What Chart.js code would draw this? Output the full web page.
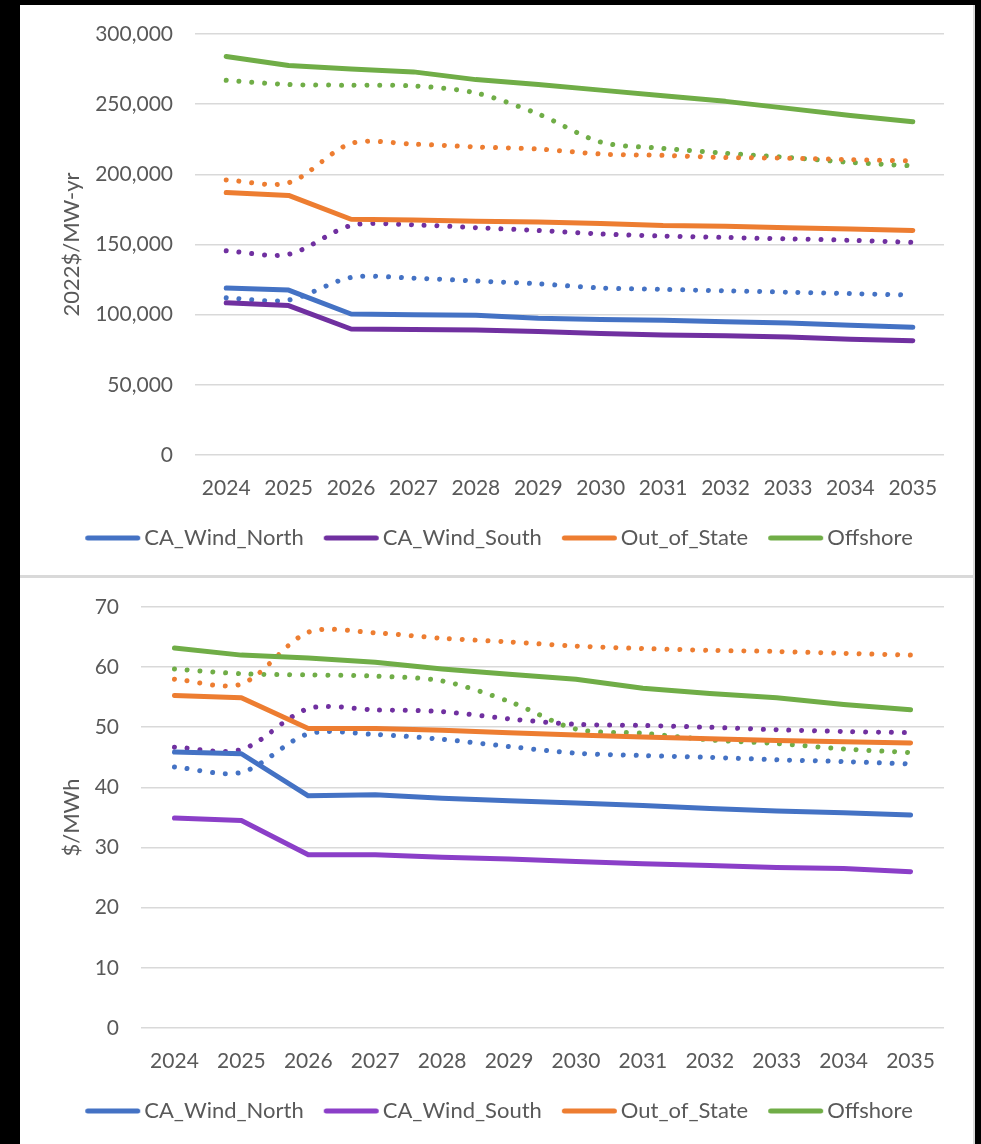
<!DOCTYPE html>
<html>
<head>
<meta charset="utf-8">
<script src="https://cdn.jsdelivr.net/npm/chart.js@4"></script>
<style>
  html, body { margin: 0; padding: 0; background: #000; }
  body { width: 981px; height: 1144px; position: relative; overflow: hidden; }
  .panel { position: absolute; left: 20px; width: 953px; background: #fff; border-right: 2px solid #d9d9d9; }
  #p1 { top: 5px; height: 570px; }
  #sep { position: absolute; left: 20px; top: 575px; width: 955px; height: 3px; background: #d9d9d9; }
  #p2 { top: 578px; height: 566px; }
  canvas { display: block; }
</style>
</head>
<body>
<div class="panel" id="p1"><canvas id="capChart" width="953" height="570"></canvas></div>
<div id="sep"></div>
<div class="panel" id="p2"><canvas id="lcoeChart" width="953" height="566"></canvas></div>
<script>
const years = ['2024','2025','2026','2027','2028','2029','2030','2031','2032','2033','2034','2035'];
const names = ['CA_Wind_North', 'CA_Wind_South', 'Out_of_State', 'Offshore'];

// top chart, 2022$/MW-yr
const capNorth = [119000,117500,100500,100000,99500,97500,96500,96000,95000,94000,92500,91000];
const capSouth = [108500,106500,89800,89500,89000,88000,86500,85500,85000,84000,82500,81500];
const capOOS = [187000,185000,168000,167500,166500,166000,165000,163500,163000,162000,161000,160000];
const capOff = [284000,277500,275000,273000,267500,264000,260000,256000,252000,247000,242000,237500];
const capNorthDot = [112000,110500,126500,126000,124000,122000,119000,118000,117000,116000,115000,114000];
const capSouthDot = [145500,143000,163500,164000,162000,160000,157500,156000,155000,154000,153000,151500];
const capOOSDot = [196000,194000,222000,221500,219500,218000,214500,213500,212000,211500,210500,209500];
const capOffDot = [267000,264000,263500,263000,258000,243000,223000,218500,215000,212000,208500,206000];

// bottom chart, $/MWh
const lcoeNorth = [45.9,45.6,38.6,38.8,38.2,37.8,37.4,37.0,36.5,36.1,35.8,35.4];
const lcoeSouth = [34.9,34.5,28.8,28.8,28.4,28.1,27.7,27.3,27.0,26.7,26.5,26.0];
const lcoeOOS = [55.3,54.9,49.8,49.8,49.5,49.1,48.7,48.4,48.1,47.8,47.6,47.4];
const lcoeOff = [63.2,62.0,61.5,60.8,59.7,58.8,58.0,56.5,55.6,54.9,53.8,52.9];
const lcoeNorthDot = [43.4,42.5,48.9,48.8,48.0,46.8,45.7,45.3,45.0,44.6,44.3,43.9];
const lcoeSouthDot = [46.7,46.3,53.1,52.9,52.6,51.4,50.5,50.3,50.0,49.6,49.3,49.1];
const lcoeOOSDot = [58.0,57.2,65.8,65.7,64.8,64.2,63.5,63.1,62.8,62.6,62.3,62.0];
const lcoeOffDot = [59.7,58.9,58.7,58.5,57.7,54.3,49.7,49.0,47.9,47.3,46.4,45.8];

const TXT = '#595959';
const FONT = 'Lato, "Open Sans", sans-serif';

// rounded line used as legend marker, sits close to its text like Excel's
function legendLine(color) {
  const c = document.createElement('canvas');
  c.width = 80; c.height = 6;
  const g = c.getContext('2d');
  g.strokeStyle = color; g.lineWidth = 5; g.lineCap = 'round';
  g.beginPath(); g.moveTo(22.5, 3); g.lineTo(72.5, 3); g.stroke();
  return c;
}

function solid(label, data, color) {
  return { label, data, borderColor: color, backgroundColor: color, borderWidth: 5,
    borderCapStyle: 'round', borderJoinStyle: 'round', pointRadius: 0, tension: 0,
    pointStyle: legendLine(color) };
}
function dotted(label, data, color) {
  return { label, data, borderColor: color, backgroundColor: color, borderWidth: 5,
    borderCapStyle: 'round', borderDash: [0.01, 12.8], pointRadius: 0, tension: 0.3 };
}

// nudge the legend row to where the original sits
const legendShift = {
  id: 'legendShift',
  afterLayout(chart) {
    chart.legend.left += 13;
    chart.legend.right += 13;
  }
};

function makeChart(id, datasets, yMax, yStep, title, axisW, padBottom, fmt) {
  return new Chart(document.getElementById(id), {
    type: 'line',
    data: { labels: years, datasets },
    plugins: [legendShift],
    options: {
      responsive: false,
      animation: false,
      devicePixelRatio: 1,
      layout: { padding: { left: 0, top: 29, right: 29, bottom: padBottom } },
      plugins: {
        tooltip: { enabled: false },
        legend: {
          position: 'bottom',
          labels: {
            filter: item => item.datasetIndex < 4,
            usePointStyle: true,
            pointStyleWidth: 56,
            padding: 12,
            color: TXT,
            font: { family: FONT, size: 22 }
          }
        }
      },
      scales: {
        x: {
          offset: true,
          grid: { display: false },
          border: { display: false },
          ticks: { color: TXT, font: { family: FONT, size: 21 }, padding: 13, maxRotation: 0, autoSkip: false },
          afterFit(s) { s.height = 60; }
        },
        y: {
          min: 0, max: yMax,
          grid: { color: '#d9d9d9', lineWidth: 1.6, drawTicks: false },
          border: { display: false },
          ticks: { stepSize: yStep, color: TXT, font: { family: FONT, size: 21 }, padding: 22, callback: fmt },
          title: { display: true, text: title, color: TXT, font: { family: FONT, size: 22 }, padding: { top: 39, bottom: 0 } },
          afterFit(s) { s.width = axisW; s.paddingTop = 0; s.paddingBottom = 0; }
        }
      }
    }
  });
}

const blue = '#4472C4', purple = '#7030A0', orange = '#ED7D31', green = '#70AD47';

makeChart('capChart', [
  solid(names[0], capNorth, blue),
  solid(names[1], capSouth, purple),
  solid(names[2], capOOS, orange),
  solid(names[3], capOff, green),
  dotted(names[0], capNorthDot, blue),
  dotted(names[1], capSouthDot, purple),
  dotted(names[2], capOOSDot, orange),
  dotted(names[3], capOffDot, green)
], 300000, 50000, '2022$/MW-yr', 175, 16, v => v.toLocaleString('en-US'));

makeChart('lcoeChart', [
  solid(names[0], lcoeNorth, blue),
  solid(names[1], lcoeSouth, '#8B3FC8'),
  solid(names[2], lcoeOOS, orange),
  solid(names[3], lcoeOff, green),
  dotted(names[0], lcoeNorthDot, blue),
  dotted(names[1], lcoeSouthDot, purple),
  dotted(names[2], lcoeOOSDot, orange),
  dotted(names[3], lcoeOffDot, green)
], 70, 10, '$/MWh', 121, 12, v => v);
</script>
</body>
</html>
